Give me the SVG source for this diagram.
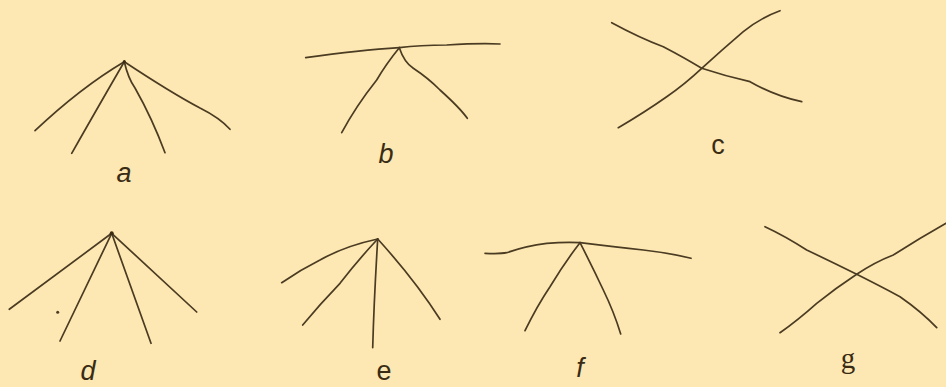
<svg xmlns="http://www.w3.org/2000/svg" width="946" height="387" viewBox="0 0 946 387">
<style>
.ln{fill:none;stroke:#4a3b22;stroke-width:1.7;stroke-linecap:round;stroke-linejoin:round}
.lbl{font-family:"Liberation Sans",Arial,sans-serif;font-size:27px;fill:#3a2c14;text-anchor:middle}
.it{font-style:italic}
.sf{font-family:"Liberation Serif","Times New Roman",serif;font-size:29px}
</style>
<rect x="0" y="0" width="946" height="387" fill="#fde8b3"/>
<g id="a">
<path class="ln" d="M124.3,61.7 Q80,88 35,130.7"/>
<path class="ln" d="M124.3,61.7 Q102,100 71.7,153.3"/>
<path class="ln" d="M124.3,61.7 Q128,78 135,88 Q152,118 165,152.7"/>
<path class="ln" d="M124.3,61.7 Q170,92 200,108 Q220,118 230,129.3"/>
<circle cx="124.3" cy="61.7" r="1.6" fill="#3a2c14"/>
<text class="lbl it" x="124" y="182">a</text>
</g>
<g id="b">
<path class="ln" d="M305.7,57.7 Q360,50 399.3,47.7"/>
<path class="ln" d="M399.3,47.7 Q420,45 446.7,45 Q480,43 500,44"/>
<path class="ln" d="M399.3,47.7 Q386,64 376.7,80 Q356,106 341.7,132.7"/>
<path class="ln" d="M399.3,47.7 Q404,62 413.3,68.3 Q428,78 440,90 Q460,108 467.3,118.3"/>
<text class="lbl it" x="386" y="163">b</text>
</g>
<g id="c">
<path class="ln" d="M611.7,22.7 Q640,38 663.3,46.7 Q685,58 701.7,68.3 Q725,76 750,81.7 Q775,96 801.7,101.7"/>
<path class="ln" d="M618.3,127.7 Q645,112 666.7,96.7 Q685,84 701.7,68.3 Q722,50 743.3,31.7 Q760,18 780,10.7"/>
<text class="lbl" x="718" y="154">c</text>
</g>
<g id="d">
<path class="ln" d="M111.7,233.3 L9.3,309.3"/>
<path class="ln" d="M111.7,233.3 L60,341"/>
<path class="ln" d="M111.7,233.3 L151,343.3"/>
<path class="ln" d="M111.7,233.3 L196.7,312"/>
<circle cx="111.7" cy="233.3" r="2" fill="#3a2c14"/>
<circle cx="57.7" cy="312.3" r="1.5" fill="#4a3b22"/>
<text class="lbl it" x="88" y="380">d</text>
</g>
<g id="e">
<path class="ln" d="M377.7,239 Q345,246 320,260 Q300,270 281.7,282.7"/>
<path class="ln" d="M377.7,239 Q358,260 340,283.3 Q320,304 302.7,325"/>
<path class="ln" d="M377.7,239 Q374,300 372.7,347.7"/>
<path class="ln" d="M377.7,239 Q415,280 440,319.3"/>
<text class="lbl" x="384" y="380">e</text>
</g>
<g id="f">
<path class="ln" d="M485,253.3 Q500,254 506.7,252.7 Q525,246 546.7,243.3 Q565,242 580,242.7"/>
<path class="ln" d="M580,242.7 Q615,247 643.3,250 Q670,253 691,258.3"/>
<path class="ln" d="M580,242.7 Q565,262 550,286.7 Q537,306 525,330.7"/>
<path class="ln" d="M580,242.7 Q592,266 603.3,290 Q614,312 620.7,334"/>
<text class="lbl it" x="580" y="377">f</text>
</g>
<g id="g">
<path class="ln" d="M765,226.7 Q785,236 806.7,250 Q832,262 856.7,274.3 Q880,286 900,296.7 Q922,312 936.7,327.7"/>
<path class="ln" d="M780,332.7 Q798,320 816.7,303.3 Q836,288 856.7,274.3 Q875,262 893.3,255 Q920,238 946,223.3"/>
<text class="lbl sf" x="848" y="368">g</text>
</g>
</svg>
